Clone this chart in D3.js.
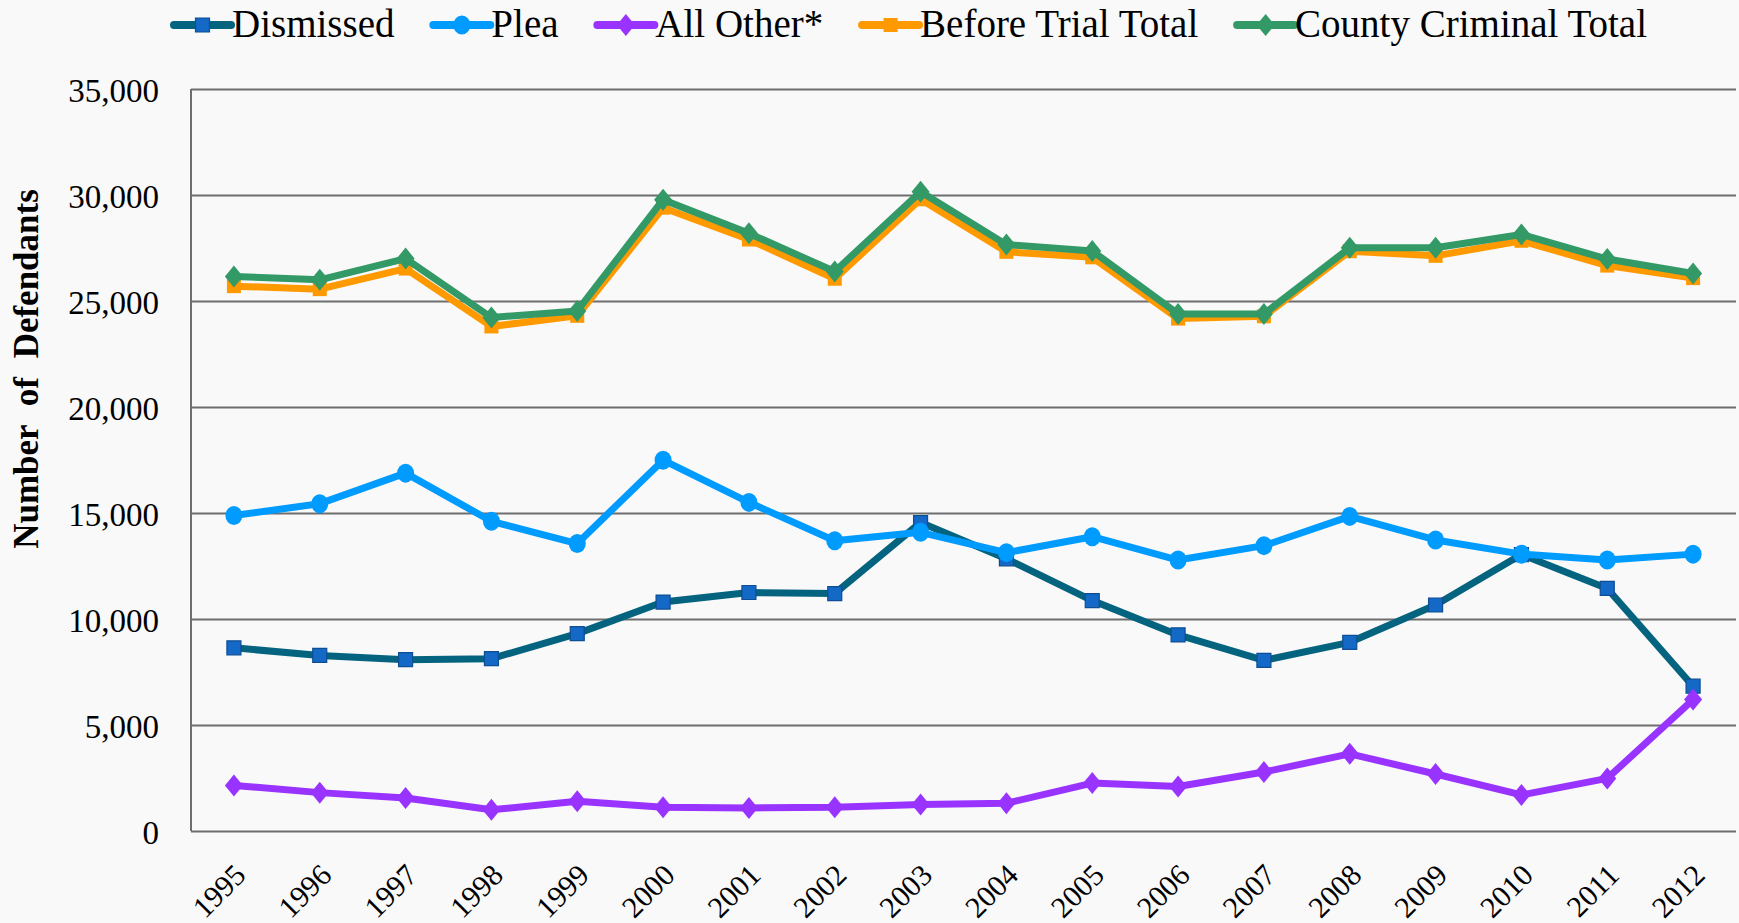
<!DOCTYPE html>
<html><head><meta charset="utf-8">
<script src="https://cdn.jsdelivr.net/npm/d3@7/dist/d3.min.js"></script>
<style>html,body{margin:0;padding:0;background:#f9f9f9;} svg{display:block;}</style>
</head><body><svg id="c" width="1739" height="923"></svg>
<script>
const years = ["1995","1996","1997","1998","1999","2000","2001","2002","2003","2004","2005","2006","2007","2008","2009","2010","2011","2012"];
const dismissed = [8640,8280,8080,8130,9310,10800,11250,11200,14550,12840,10870,9250,8050,8900,10660,13040,11440,6830];
const plea = [14880,15440,16880,14610,13560,17490,15500,13690,14090,13130,13880,12780,13460,14840,13730,13060,12780,13060];
const allOther = [2150,1810,1560,1000,1400,1120,1090,1120,1250,1310,2260,2100,2780,3640,2690,1700,2480,6200];
const beforeTrial = [25700,25560,26530,23800,24300,29400,27900,26050,29800,27320,27060,24170,24280,27350,27130,27840,26670,26080];
const countyTotal = [26160,26000,27000,24220,24530,29780,28190,26390,30150,27660,27360,24390,24390,27510,27510,28140,26980,26300];
const seriesNames = ["Dismissed","Plea","All Other*","Before Trial Total","County Criminal Total"];
const yTicks = [0,5000,10000,15000,20000,25000,30000,35000];
const yTitle = "Number of Defendants";

const series = [
  {name: seriesNames[0], values: dismissed, line: "#04637F", fill: "#1468C6", stroke: "#0E4E94", shape: "square"},
  {name: seriesNames[1], values: plea, line: "#009BFF", fill: "#009BFF", stroke: "none", shape: "circle"},
  {name: seriesNames[2], values: allOther, line: "#9933FF", fill: "#9933FF", stroke: "none", shape: "diamond"},
  {name: seriesNames[3], values: beforeTrial, line: "#FF9900", fill: "#FF9900", stroke: "none", shape: "square"},
  {name: seriesNames[4], values: countyTotal, line: "#339966", fill: "#339966", stroke: "none", shape: "diamond"}
];

const svg = d3.select("#c");
const W = 1739, H = 923;
const m = {left: 191, right: 1736, top: 89, bottom: 831};
const font = "'Liberation Serif', 'DejaVu Serif', serif";

svg.append("rect").attr("width", W).attr("height", H).attr("fill", "#f9f9f9");

const x = d3.scalePoint().domain(years).range([m.left, m.right]).padding(0.5);
const y = d3.scaleLinear().domain([0, 35000]).range([m.bottom, m.top]);

// gridlines
const yAxis = d3.axisLeft(y).tickValues(yTicks).tickSize(-(m.right - m.left)).tickFormat(d3.format(","));
const gy = svg.append("g").attr("transform", `translate(${m.left},0)`).call(yAxis);
gy.select(".domain").remove();
gy.selectAll(".tick line").attr("stroke", "#6e6e6e").attr("stroke-width", 2);
gy.selectAll(".tick text").attr("x", -32).attr("dy", null).attr("y", 12)
  .attr("font-family", font).attr("font-size", 33).attr("fill", "#000");

// left axis line
svg.append("line").attr("x1", m.left).attr("x2", m.left).attr("y1", m.top).attr("y2", m.bottom)
  .attr("stroke", "#6e6e6e").attr("stroke-width", 2);

// x axis labels
const xAxis = d3.axisBottom(x).tickSize(0);
const gx = svg.append("g").attr("transform", `translate(0,${m.bottom})`).call(xAxis);
gx.select(".domain").remove();
gx.selectAll(".tick text")
  .attr("font-family", font).attr("font-size", 30).attr("fill", "#000")
  .attr("text-anchor", "end").attr("dy", null).attr("y", 0)
  .attr("transform", "translate(13,46) rotate(-45)");

// y title
svg.append("text")
  .attr("transform", "translate(38,369) rotate(-90)")
  .attr("text-anchor", "middle")
  .attr("font-family", font).attr("font-weight", "bold").attr("font-size", 35)
  .attr("word-spacing", 10)
  .text(yTitle);

function markerPath(shape, cx, cy, s) {
  if (shape === "square") {
    const h = s.sq / 2;
    return `M${cx - h},${cy - h}h${2 * h}v${2 * h}h${-2 * h}Z`;
  } else if (shape === "diamond") {
    const w = s.dw / 2, hh = s.dh / 2;
    return `M${cx},${cy - hh}L${cx + w},${cy}L${cx},${cy + hh}L${cx - w},${cy}Z`;
  } else {
    const rx = s.rx, ry = s.ry;
    return `M${cx - rx},${cy}a${rx},${ry} 0 1,0 ${2 * rx},0a${rx},${ry} 0 1,0 ${-2 * rx},0Z`;
  }
}
const sz = {sq: 14, dw: 18, dh: 22, rx: 8.5, ry: 9.5};

const line = d3.line().x((d, i) => x(years[i])).y(d => y(d));

series.forEach(s => {
  const g = svg.append("g");
  g.append("path").datum(s.values).attr("d", line)
    .attr("fill", "none").attr("stroke", s.line).attr("stroke-width", 7)
    .attr("stroke-linejoin", "round").attr("stroke-linecap", "round");
  g.selectAll("path.mk").data(s.values).enter().append("path").attr("class", "mk")
    .attr("d", (d, i) => markerPath(s.shape, x(years[i]), y(d), sz))
    .attr("fill", s.fill).attr("stroke", s.stroke).attr("stroke-width", 1.2);
});

// legend
const leg = svg.append("g");
const lineLen = 57, legStart = 174, legEnd = 1647, legY = 25;
const items = series.map(s => {
  const g = leg.append("g");
  g.append("line").attr("x1", 0).attr("x2", lineLen).attr("y1", legY).attr("y2", legY)
    .attr("stroke", s.line).attr("stroke-width", 8).attr("stroke-linecap", "round");
  g.append("path").attr("d", markerPath(s.shape, lineLen / 2, legY, sz))
    .attr("fill", s.fill).attr("stroke", s.stroke).attr("stroke-width", 1.2);
  const t = g.append("text").attr("x", lineLen + 1).attr("y", 37)
    .attr("font-family", font).attr("font-size", 39).attr("fill", "#000").text(s.name);
  return {g, w: lineLen + 1 + t.node().getComputedTextLength()};
});
const total = d3.sum(items, d => d.w);
const gap = (legEnd - legStart - total) / (items.length - 1);
let cx = legStart;
items.forEach(it => { it.g.attr("transform", `translate(${cx},0)`); cx += it.w + gap; });
</script></body></html>
